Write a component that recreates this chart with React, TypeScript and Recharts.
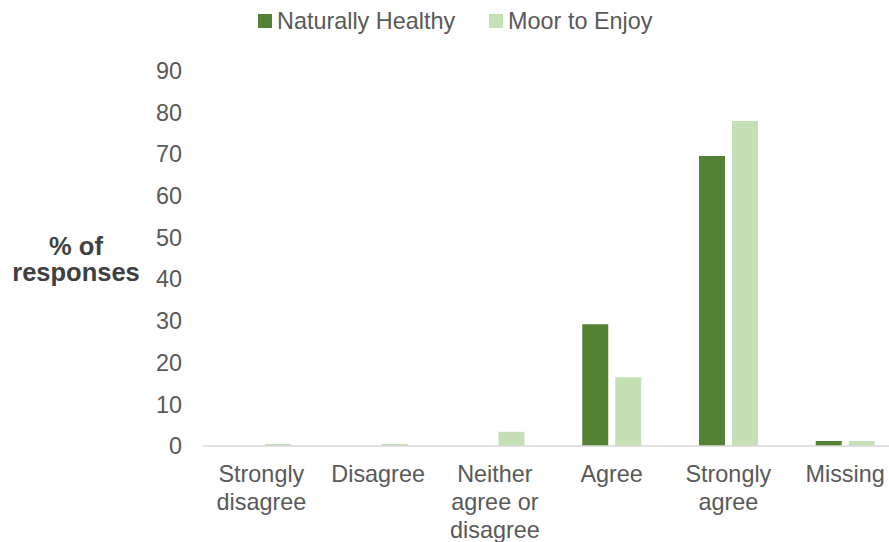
import React from "react";
import { BarChart, Bar, XAxis, YAxis, Legend } from "recharts";

const categories = [
  "Strongly disagree",
  "Disagree",
  "Neither agree or disagree",
  "Agree",
  "Strongly agree",
  "Missing",
];
const categoryLines: string[][] = [
  ["Strongly", "disagree"],
  ["Disagree"],
  ["Neither", "agree or", "disagree"],
  ["Agree"],
  ["Strongly", "agree"],
  ["Missing"],
];
const naturallyHealthy = [0, 0, 0, 29.2, 69.5, 1.2];
const moorToEnjoy = [0.5, 0.5, 3.4, 16.5, 77.9, 1.2];
const yTicks = [0, 10, 20, 30, 40, 50, 60, 70, 80, 90];

const seriesNames = ["Naturally Healthy", "Moor to Enjoy"];
const seriesColors = ["#548235", "#C5E0B4"];

const data = categories.map((c, i) => ({
  category: c,
  idx: i,
  nh: naturallyHealthy[i],
  mte: moorToEnjoy[i],
}));

const FONT = "'Liberation Sans', Arial, sans-serif";
const TEXT = "#595959";

const CategoryTick = (props: any) => {
  const { x, y, payload } = props;
  const i = categories.indexOf(payload.value);
  const lines = categoryLines[i] || [payload.value];
  return (
    <text
      x={x}
      y={y + 36}
      textAnchor="middle"
      fill={TEXT}
      fontFamily={FONT}
      fontSize={23.4}
    >
      {lines.map((l, k) => (
        <tspan key={k} x={x} dy={k === 0 ? 0 : 28}>
          {l}
        </tspan>
      ))}
    </text>
  );
};

const LegendContent = () => (
  <div
    style={{
      height: 42,
      display: "flex",
      alignItems: "center",
      paddingLeft: 258,
      fontFamily: FONT,
      fontSize: 23.4,
      color: TEXT,
      boxSizing: "border-box",
    }}
  >
    {seriesNames.map((n, i) => (
      <div
        key={n}
        style={{ display: "flex", alignItems: "center", marginRight: 34 }}
      >
        <span
          style={{
            width: 14,
            height: 14,
            background: seriesColors[i],
            display: "inline-block",
            marginRight: 5,
          }}
        />
        <span>{n}</span>
      </div>
    ))}
  </div>
);

const YLabel = (props: any) => {
  const vb = props.viewBox || { x: 0, y: 0, width: 0, height: 0 };
  const cy = vb.y + vb.height / 2;
  return (
    <text
      x={76}
      y={cy}
      textAnchor="middle"
      fill="#404040"
      fontFamily={FONT}
      fontWeight="bold"
      fontSize={25.5}
    >
      <tspan x={76} dy={-3}>
        % of
      </tspan>
      <tspan x={76} dy={26}>
        responses
      </tspan>
    </text>
  );
};

export default function App() {
  return (
    <div
      style={{
        position: "absolute",
        left: 0,
        top: 0,
        width: 889,
        height: 542,
        overflow: "hidden",
        background: "#fff",
      }}
    >
      <BarChart
        width={910}
        height={542}
        data={data}
        margin={{ top: 28.5, right: 6.5, bottom: 0, left: 0 }}
        barSize={26}
        barGap={7}
      >
        <Legend
          verticalAlign="top"
          content={<LegendContent />}
          wrapperStyle={{ top: 0, left: 0, width: 889, height: 42 }}
        />
        <XAxis
          dataKey="category"
          interval={0}
          tickLine={false}
          tickSize={0}
          tickMargin={0}
          height={96}
          axisLine={{ stroke: "#d9d9d9", strokeWidth: 1.3 }}
          tick={<CategoryTick />}
        />
        <YAxis
          width={203}
          domain={[0, 90]}
          ticks={yTicks}
          interval={0}
          axisLine={false}
          tickLine={false}
          tickSize={0}
          tickMargin={21}
          tick={{ fill: TEXT, fontFamily: FONT, fontSize: 23.4 }}
          label={{ content: <YLabel /> }}
        />
        <Bar
          dataKey="nh"
          name={seriesNames[0]}
          fill={seriesColors[0]}
          isAnimationActive={false}
        />
        <Bar
          dataKey="mte"
          name={seriesNames[1]}
          fill={seriesColors[1]}
          isAnimationActive={false}
        />
      </BarChart>
    </div>
  );
}
